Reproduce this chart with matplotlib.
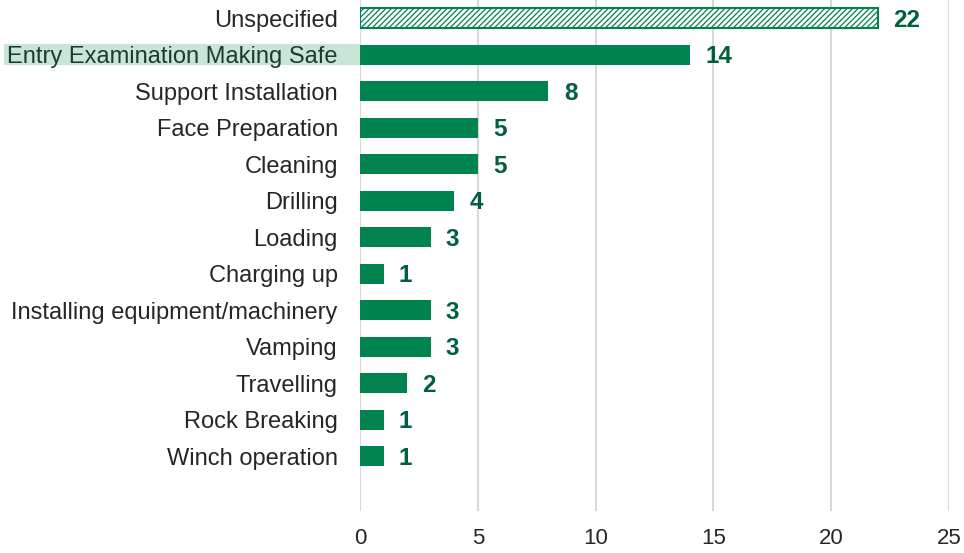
import matplotlib
matplotlib.use("Agg")
import matplotlib.pyplot as plt
from matplotlib.patches import Rectangle
from matplotlib.transforms import blended_transform_factory

categories = ["Unspecified", "Entry Examination Making Safe", "Support Installation",
              "Face Preparation", "Cleaning", "Drilling", "Loading", "Charging up",
              "Installing equipment/machinery", "Vamping", "Travelling", "Rock Breaking",
              "Winch operation"]
values = [22, 14, 8, 5, 5, 4, 3, 1, 3, 3, 2, 1, 1]
xticks = [0, 5, 10, 15, 20, 25]
highlight = "Entry Examination Making Safe"
hatched = "Unspecified"

plt.rcParams['font.family'] = ['Liberation Sans', 'DejaVu Sans']
plt.rcParams['hatch.linewidth'] = 0.9
plt.rcParams['hatch.color'] = "#00834e"

GREEN = "#00834e"
DARK = "#00603a"

fig = plt.figure(figsize=(9.64, 5.53), dpi=100)
ax = fig.add_axes([360/964, 1 - 511/553, 589/964, 511/553])
ax.patch.set_visible(False)

ypos = list(range(len(categories)))
for y, cat, v in zip(ypos, categories, values):
    if cat == hatched:
        ax.barh(y, v, height=0.55, color="white", edgecolor=GREEN, hatch="//////",
                linewidth=1.5, zorder=3)
    else:
        ax.barh(y, v, height=0.55, color=GREEN, edgecolor=GREEN, linewidth=0, zorder=3)
    ax.annotate(str(v), (v, y), xytext=(11, -1.5), textcoords="offset points",
                ha="left", va="center", fontsize=17.5, fontweight="bold", color=DARK)

ax.set_ylim(13.5, -0.5)
ax.set_xlim(0, 25)
ax.set_xticks(xticks)
ax.set_xticklabels([str(t) for t in xticks])
ax.set_yticks(ypos)
ax.set_yticklabels(categories)
ax.tick_params(axis="y", length=0, pad=16, labelsize=17, labelcolor="#262626")
ax.tick_params(axis="x", length=0, pad=12, labelsize=16, labelcolor="#262626")
ax.grid(axis="x", color="#d9d9d9", linewidth=1.5, zorder=0)
ax.set_axisbelow(True)
for s in ax.spines.values():
    s.set_visible(False)

# highlight box behind the highlighted label
idx = categories.index(highlight)
tr = blended_transform_factory(fig.transFigure, ax.transData)
rect = Rectangle((4/964, idx - 0.29), (360 - 4)/964, 0.58, transform=tr,
                 facecolor="#c7e6d7", edgecolor="none", clip_on=False, zorder=-1)
ax.add_patch(rect)
ax.get_yticklabels()[idx].set_color("#1e3a2e")

fig.savefig("out.png", dpi=100)
